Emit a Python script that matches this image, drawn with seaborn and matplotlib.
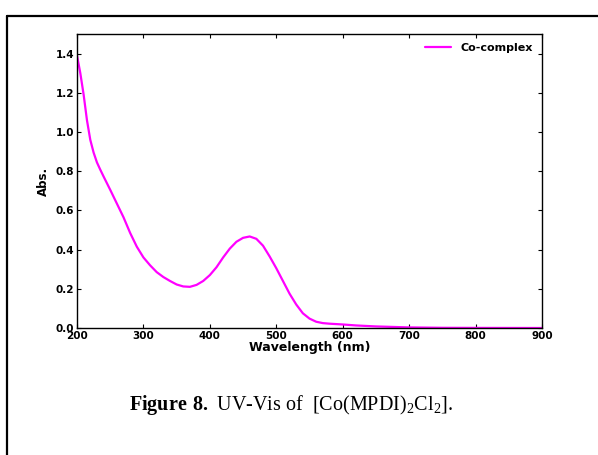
import matplotlib
matplotlib.use("Agg")
import matplotlib.pyplot as plt
import seaborn as sns
import pandas as pd
from matplotlib.lines import Line2D

wavelength = [200, 205, 210, 215, 220, 225, 230, 235, 240, 250, 260, 270, 280, 290,
              300, 310, 320, 330, 340, 350, 360, 370, 380, 390, 400, 410, 420,
              430, 440, 450, 460, 470, 480, 490, 500, 510, 520, 530, 540, 550,
              560, 570, 580, 600, 620, 650, 700, 750, 800, 900]
absorbance = [1.39, 1.30, 1.19, 1.06, 0.96, 0.895, 0.845, 0.808, 0.773, 0.705,
              0.635, 0.565, 0.485, 0.415, 0.36, 0.32, 0.285, 0.26, 0.24, 0.222,
              0.212, 0.210, 0.22, 0.24, 0.27, 0.31, 0.36, 0.405, 0.44, 0.46,
              0.467, 0.455, 0.42, 0.365, 0.305, 0.24, 0.175, 0.12, 0.075, 0.048,
              0.032, 0.025, 0.022, 0.018, 0.013, 0.008, 0.003, 0.001, 0.0005, 0.0]
series_name = "Co-complex"
x_ticks = [200, 300, 400, 500, 600, 700, 800, 900]
y_ticks = [0.0, 0.2, 0.4, 0.6, 0.8, 1.0, 1.2, 1.4]

sns.set_style("ticks")
plt.rcParams["font.family"] = ["DejaVu Sans"]
plt.rcParams["mathtext.fontset"] = "custom"
plt.rcParams["mathtext.rm"] = "Liberation Serif"
plt.rcParams["mathtext.bf"] = "Liberation Serif:bold"
plt.rcParams["text.color"] = "black"
plt.rcParams["axes.labelcolor"] = "black"
plt.rcParams["xtick.color"] = "black"
plt.rcParams["ytick.color"] = "black"

df = pd.DataFrame({"Wavelength": wavelength, "Abs": absorbance})

fig = plt.figure(figsize=(5.98, 4.55), dpi=100)
ax = fig.add_axes([77 / 598, 1 - 328 / 455, 465 / 598, 294 / 455])
sns.lineplot(data=df, x="Wavelength", y="Abs", color="#ff00ff", linewidth=1.6,
             label=series_name, ax=ax)

ax.set_xlim(200, 900)
ax.set_ylim(0, 1.5)
ax.set_xticks(x_ticks)
ax.set_yticks(y_ticks)
ax.set_xticklabels([str(t) for t in x_ticks], fontweight="bold", fontsize=7.5)
ax.set_yticklabels([f"{t:.1f}" for t in y_ticks], fontweight="bold", fontsize=7.5)
ax.tick_params(direction="in", top=True, right=True, length=3, width=0.8,
               pad=2, color="black", labelcolor="black")
ax.set_xlabel("Wavelength (nm)", fontweight="bold", fontsize=9, labelpad=0,
              color="black")
ax.set_ylabel("Abs.", fontweight="bold", fontsize=8.5, labelpad=4, color="black")
for s in ax.spines.values():
    s.set_visible(True)
    s.set_color("black")
    s.set_linewidth(1.0)

leg = ax.legend(loc="upper right", frameon=False, prop={"weight": "bold", "size": 8},
                handlelength=2.3, handletextpad=0.9, borderaxespad=0.4)
for t in leg.get_texts():
    t.set_color("black")

# outer frame of the figure panel
fig.add_artist(Line2D([7 / 598, 7 / 598], [0, 1 - 16 / 455], color="black",
                      linewidth=1.6, transform=fig.transFigure))
fig.add_artist(Line2D([7 / 598, 1], [1 - 16 / 455, 1 - 16 / 455], color="black",
                      linewidth=1.6, transform=fig.transFigure))

fig.text(291 / 598, 1 - 405 / 455,
         r"$\mathbf{Figure\ 8.}$ UV-Vis of  [Co(MPDI)$_2$Cl$_2$].",
         ha="center", va="center", fontsize=14.5, family="Liberation Serif",
         color="black")

fig.savefig("out.png", dpi=100)
